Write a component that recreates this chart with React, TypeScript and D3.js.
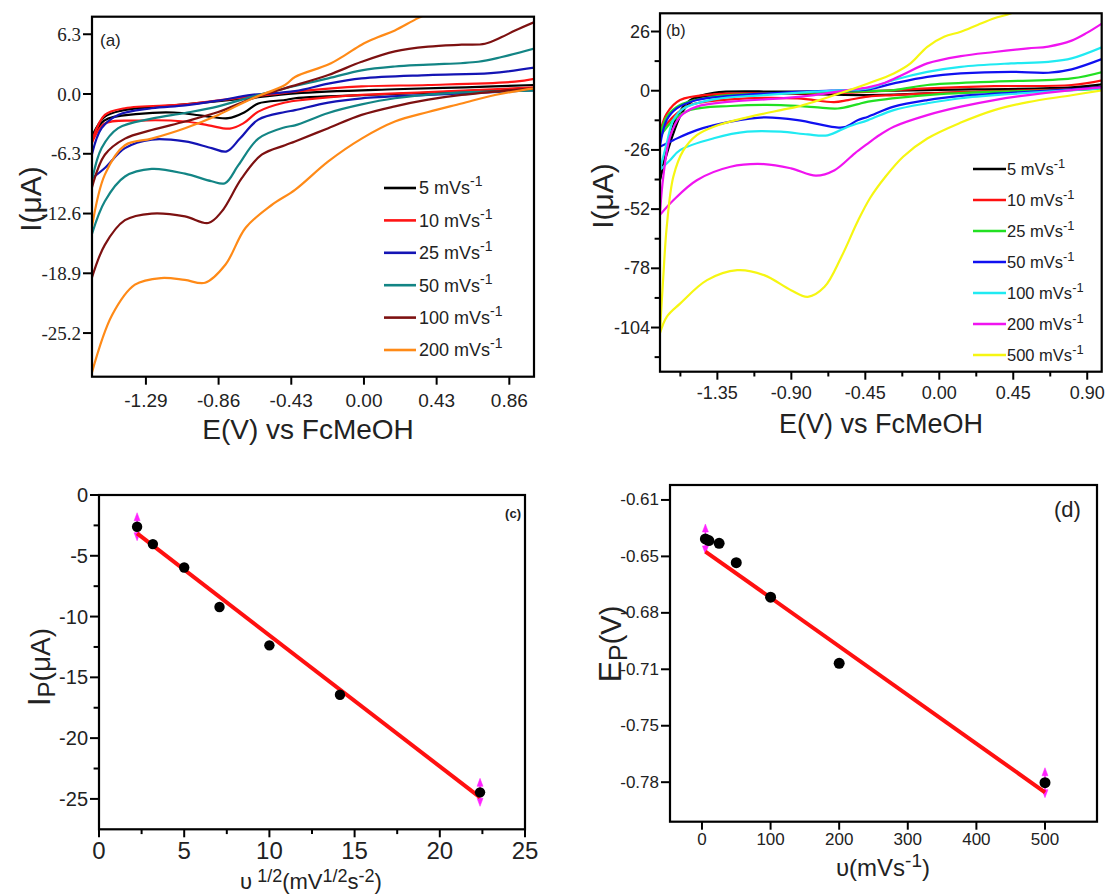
import React from "react";
import * as d3 from "d3";

type Pt = [number, number];

const SANS = "'Liberation Sans', Arial, sans-serif";
const SERIF = "'Liberation Serif', 'Times New Roman', serif";

// ================= Panel (a) data : E (V) , I (uA) =================
const ratesA = ["5", "10", "25", "50", "100", "200"];
const colorsA = ["#000000", "#ff1414", "#1414b4", "#138585", "#7d1111", "#ff8a17"];

const a5Cath: Pt[] = [[-1.61,-4.9],[-1.537,-2.8],[-1.33,-2.1],[-1.125,-1.95],[-0.95,-2.3],[-0.803,-2.55],[-0.704,-1.9],[-0.625,-1.0],[-0.467,-0.63],[-0.408,-0.45],[0.183,0.0],[0.6,0.3],[1.01,0.6]];
const a5Anod: Pt[] = [[-1.61,-4.5],[-1.537,-2.45],[-1.434,-1.75],[-1.125,-1.2],[-0.714,-0.5],[-0.408,0.07],[0.183,0.5],[0.6,0.7],[1.01,0.95]];
const a10Cath: Pt[] = [[-1.61,-5.2],[-1.537,-3.15],[-1.331,-2.8],[-1.059,-2.9],[-0.92,-3.3],[-0.793,-3.65],[-0.714,-3.1],[-0.625,-1.86],[-0.467,-0.9],[-0.349,-0.6],[-0.014,-0.1],[0.38,0.2],[1.01,0.7]];
const a10Anod: Pt[] = [[-1.61,-5.0],[-1.533,-2.2],[-1.414,-1.5],[-1.059,-1.1],[-0.763,-0.46],[-0.546,-0.04],[-0.408,0.25],[-0.014,0.8],[0.38,0.95],[0.894,1.3],[1.01,1.6]];
const a25Cath: Pt[] = [[-1.61,-8.9],[-1.533,-7.8],[-1.414,-5.7],[-1.256,-4.8],[-1.059,-5.0],[-0.901,-5.7],[-0.812,-6.05],[-0.734,-4.7],[-0.625,-2.7],[-0.467,-1.9],[-0.408,-1.7],[-0.211,-0.9],[-0.014,-0.45],[0.38,-0.1],[1.01,0.4]];
const a25Anod: Pt[] = [[-1.61,-6.4],[-1.552,-3.6],[-1.454,-2.2],[-1.256,-1.5],[-1.059,-1.2],[-0.862,-0.7],[-0.665,-0.1],[-0.408,0.3],[-0.211,1.1],[-0.014,1.65],[0.38,2.0],[0.75,2.2],[1.01,2.8]];
const a50Cath: Pt[] = [[-1.61,-14.8],[-1.533,-11.3],[-1.414,-8.7],[-1.256,-7.9],[-1.059,-8.4],[-0.901,-9.2],[-0.822,-9.4],[-0.743,-7.5],[-0.625,-4.7],[-0.467,-3.5],[-0.408,-3.3],[-0.211,-2.0],[-0.014,-1.1],[0.183,-0.45],[0.48,0.07],[1.01,0.35]];
const a50Anod: Pt[] = [[-1.61,-9.2],[-1.552,-5.7],[-1.454,-3.6],[-1.256,-2.6],[-1.059,-2.0],[-0.862,-1.3],[-0.665,-0.3],[-0.467,0.6],[-0.211,1.65],[-0.014,2.5],[0.183,2.9],[0.38,3.1],[0.676,3.4],[0.815,3.9],[1.01,4.8]];
const a100Cath: Pt[] = [[-1.61,-19.4],[-1.533,-15.9],[-1.414,-13.3],[-1.256,-12.6],[-1.059,-12.9],[-0.921,-13.6],[-0.842,-12.4],[-0.724,-8.9],[-0.605,-6.4],[-0.467,-5.4],[-0.408,-5.0],[-0.211,-3.6],[-0.014,-2.2],[0.183,-1.3],[0.38,-0.6],[0.578,-0.1],[1.01,0.6]];
const a100Anod: Pt[] = [[-1.61,-9.9],[-1.533,-6.4],[-1.414,-4.7],[-1.256,-3.8],[-1.059,-2.9],[-0.862,-1.9],[-0.665,-0.5],[-0.467,0.6],[-0.211,2.0],[-0.014,3.4],[0.183,4.5],[0.38,5.0],[0.578,5.2],[0.716,5.3],[0.815,6.0],[0.894,6.7],[1.01,7.6]];
const a200Cath: Pt[] = [[-1.61,-29.4],[-1.49,-23.3],[-1.355,-20.1],[-1.2,-19.4],[-1.06,-19.6],[-0.94,-19.9],[-0.82,-18.0],[-0.7,-14.1],[-0.546,-11.7],[-0.408,-10.1],[-0.211,-7.1],[-0.014,-4.7],[0.183,-2.9],[0.38,-1.9],[0.578,-1.0],[0.775,-0.1],[1.01,0.6]];
const a200Anod: Pt[] = [[-1.61,-14.1],[-1.533,-8.5],[-1.414,-5.4],[-1.256,-4.7],[-1.059,-3.6],[-0.862,-2.2],[-0.665,-0.5],[-0.467,0.95],[-0.408,1.8],[-0.211,3.1],[-0.112,4.1],[-0.014,5.2],[0.085,6.0],[0.183,6.7],[0.32,8.0],[0.5,9.5]];

const cathA = [a5Cath, a10Cath, a25Cath, a50Cath, a100Cath, a200Cath];
const anodA = [a5Anod, a10Anod, a25Anod, a50Anod, a100Anod, a200Anod];
const xTicksA = [-1.29, -0.86, -0.43, 0, 0.43, 0.86];
const yTicksA = [-25.2, -18.9, -12.6, -6.3, 0, 6.3];

// ================= Panel (b) data =================
const ratesB = ["5", "10", "25", "50", "100", "200", "500"];
const colorsB = ["#000000", "#ff1010", "#22e022", "#1010f0", "#20eaf2", "#f014f0", "#f6f612"];

const b5Cath: Pt[] = [[-1.7,-39.3],[-1.638,-23.1],[-1.556,-8.5],[-1.475,-3.4],[-1.168,-1.2],[-0.76,-1.5],[-0.433,-1.9],[-0.073,-1.2],[0.335,-0.4],[0.805,1.0],[1.0,1.6]];
const b5Anod: Pt[] = [[-1.7,-39.3],[-1.658,-26.1],[-1.597,-11.4],[-1.516,-4.1],[-1.372,-0.9],[-0.964,-0.4],[-0.555,-0.3],[-0.073,0.3],[0.805,1.5],[1.0,2.9]];
const b10Cath: Pt[] = [[-1.7,-18.8],[-1.618,-11.4],[-1.516,-6.3],[-1.27,-3.8],[-0.862,-3.4],[-0.64,-5.0],[-0.555,-4.1],[-0.433,-2.6],[-0.277,-1.9],[0.131,-0.6],[0.805,0.6],[1.0,1.2]];
const b10Anod: Pt[] = [[-1.7,-18.8],[-1.658,-10.0],[-1.577,-4.1],[-1.372,-1.6],[-0.964,-1.2],[-0.555,-0.9],[-0.073,1.0],[0.335,2.0],[0.805,2.5],[1.0,4.7]];
const b25Cath: Pt[] = [[-1.7,-20.2],[-1.618,-12.9],[-1.516,-8.5],[-1.27,-6.7],[-0.964,-6.3],[-0.76,-7.2],[-0.617,-7.8],[-0.5,-6.0],[-0.433,-4.8],[-0.073,-1.9],[0.335,-0.4],[0.805,0.3],[1.0,1.0]];
const b25Anod: Pt[] = [[-1.7,-20.2],[-1.658,-11.4],[-1.577,-6.3],[-1.372,-2.6],[-0.964,-1.2],[-0.555,-0.4],[-0.277,0.3],[-0.073,2.5],[0.335,4.0],[0.805,5.4],[1.0,8.4]];
const b50Cath: Pt[] = [[-1.7,-24.6],[-1.618,-21.7],[-1.475,-17.3],[-1.27,-13.6],[-1.066,-11.7],[-0.862,-12.9],[-0.637,-16.0],[-0.576,-16.0],[-0.494,-12.9],[-0.433,-11.4],[-0.277,-7.0],[-0.073,-4.1],[0.131,-2.3],[0.437,-0.9],[0.805,0.6],[1.0,1.5]];
const b50Anod: Pt[] = [[-1.7,-24.6],[-1.658,-12.9],[-1.597,-7.8],[-1.475,-4.1],[-1.27,-2.3],[-0.964,-0.9],[-0.657,0.0],[-0.433,0.6],[-0.277,3.2],[-0.073,6.1],[0.131,7.6],[0.437,8.3],[0.663,7.9],[0.805,9.4],[1.0,14.2]];
const b100Cath: Pt[] = [[-1.7,-34.9],[-1.638,-30.5],[-1.577,-26.1],[-1.372,-20.9],[-1.168,-18.0],[-0.964,-18.0],[-0.8,-19.2],[-0.68,-19.6],[-0.555,-15.8],[-0.433,-12.9],[-0.277,-8.5],[-0.073,-5.5],[0.131,-3.3],[0.437,-1.45],[0.805,0.3],[1.0,1.0]];
const b100Anod: Pt[] = [[-1.7,-34.9],[-1.658,-23.1],[-1.618,-12.9],[-1.556,-7.8],[-1.372,-3.8],[-1.066,-1.9],[-0.76,-0.4],[-0.555,0.3],[-0.433,1.0],[-0.277,4.7],[-0.073,8.3],[0.131,10.5],[0.437,12.0],[0.663,12.7],[0.805,14.2],[1.0,19.4]];
const b200Cath: Pt[] = [[-1.7,-54.6],[-1.618,-48.1],[-1.475,-39.3],[-1.27,-33.4],[-1.066,-32.2],[-0.902,-34.1],[-0.75,-37.3],[-0.637,-34.9],[-0.514,-27.5],[-0.433,-23.1],[-0.379,-20.2],[-0.277,-15.8],[-0.073,-10.7],[0.131,-7.0],[0.335,-4.1],[0.54,-1.9],[0.805,0.3],[1.0,1.5]];
const b200Anod: Pt[] = [[-1.7,-54.6],[-1.679,-37.8],[-1.638,-20.2],[-1.577,-11.4],[-1.475,-7.0],[-1.27,-4.8],[-0.964,-3.4],[-0.76,-1.9],[-0.555,0.3],[-0.433,1.5],[-0.33,3.5],[-0.223,7.0],[-0.073,12.0],[0.131,15.2],[0.335,17.0],[0.54,18.6],[0.663,19.4],[0.805,22.0],[0.9,25.5],[1.0,30.0]];
const b500Cath: Pt[] = [[-1.7,-106.7],[-1.658,-99.3],[-1.577,-93.5],[-1.413,-83.2],[-1.229,-78.8],[-1.066,-81.0],[-0.902,-87.6],[-0.8,-90.5],[-0.698,-86.1],[-0.596,-73.0],[-0.494,-57.0],[-0.42,-47.0],[-0.33,-38.0],[-0.22,-29.0],[-0.073,-21.0],[0.131,-14.0],[0.335,-8.5],[0.54,-5.0],[0.805,-2.0],[1.0,0.3]];
const b500Anod: Pt[] = [[-1.7,-106.7],[-1.679,-81.7],[-1.658,-59.8],[-1.618,-37.8],[-1.556,-26.1],[-1.475,-19.5],[-1.372,-15.8],[-1.168,-11.7],[-0.964,-8.5],[-0.862,-7.0],[-0.76,-4.8],[-0.637,-1.9],[-0.433,3.2],[-0.277,7.6],[-0.175,12.0],[-0.073,19.3],[0.029,23.7],[0.131,25.9],[0.233,28.9],[0.335,31.8],[0.437,34.0],[0.6,40.0]];

const cathB = [b5Cath, b10Cath, b25Cath, b50Cath, b100Cath, b200Cath, b500Cath];
const anodB = [b5Anod, b10Anod, b25Anod, b50Anod, b100Anod, b200Anod, b500Anod];
const xTicksB = [-1.35, -0.9, -0.45, 0, 0.45, 0.9];
const xMinorB = [-1.575, -1.125, -0.675, -0.225, 0.225, 0.675];
const yTicksB = [-104, -78, -52, -26, 0, 26];
const yMinorB = [-117, -91, -65, -39, -13, 13];

// ================= Panel (c) data =================
const sqrtRateC = [2.236, 3.162, 5, 7.071, 10, 14.142, 22.361];
const peakCurrentC = [-2.61, -4.04, -5.96, -9.21, -12.37, -16.43, -24.46];
const fitC = [-1.079, -0.748]; // slope, intercept
const errIdxC = [0, 6];
const errC = 1.15;
const xTicksC = [0, 5, 10, 15, 20, 25];
const xMinorC = [2.5, 7.5, 12.5, 17.5, 22.5];
const yTicksC = [0, -5, -10, -15, -20, -25];
const yMinorC = [-2.5, -7.5, -12.5, -17.5, -22.5];

// ================= Panel (d) data =================
const rateD = [5, 10, 25, 50, 100, 200, 500];
const peakPotD = [-0.6355, -0.6365, -0.6381, -0.6498, -0.6706, -0.7104, -0.7823];
const fitD = [-0.000293, -0.6416];
const errIdxD = [0, 6];
const errD = 0.009;
const xTicksD = [0, 100, 200, 300, 400, 500];
const yTicksD = [-0.612, -0.646, -0.68, -0.714, -0.748, -0.782];

// ---------- geometry ----------
const xA = d3.scaleLinear().domain([-1.609, 1.006]).range([92, 534]);
const yA = d3.scaleLinear().domain([-29.8, 8.15]).range([376.7, 16.7]);
const xB = d3.scaleLinear().domain([-1.699, 0.988]).range([660, 1101.7]);
const yB = d3.scaleLinear().domain([-123.4, 34.0]).range([371.7, 13.3]);
const xC = d3.scaleLinear().domain([0, 25]).range([99, 525]);
const yC = d3.scaleLinear().domain([-27.5, 0]).range([829.3, 495]);
const xD = d3.scaleLinear().domain([-46.6, 575.8]).range([670, 1097]);
const yD = d3.scaleLinear().domain([-0.8058, -0.603]).range([821.7, 485]);

type Sc = d3.ScaleLinear<number, number>;

function Frame({ x, y }: { x: Sc; y: Sc }) {
  const [x0, x1] = x.range();
  const [y1, y0] = y.range();
  return <rect x={x0} y={y0} width={x1 - x0} height={y1 - y0} fill="none" stroke="#000" strokeWidth={2.2} />;
}

function XAxis({ x, y, ticks, minor = [], fmt, font, size, labelY, len = 8 }: any) {
  const yb = y.range()[0];
  return (
    <g>
      {ticks.map((t: number, i: number) => (
        <g key={"t" + i}>
          <line x1={x(t)} x2={x(t)} y1={yb} y2={yb + len} stroke="#000" strokeWidth={2} />
          <text x={x(t)} y={labelY} textAnchor="middle" dominantBaseline="central" fontFamily={font} fontSize={size} fill="#222">{fmt(t)}</text>
        </g>
      ))}
      {minor.map((t: number, i: number) => (
        <line key={"m" + i} x1={x(t)} x2={x(t)} y1={yb} y2={yb + len * 0.6} stroke="#000" strokeWidth={2} />
      ))}
    </g>
  );
}

function YAxis({ x, y, ticks, minor = [], fmt, font, size, gap = 2, len = 9 }: any) {
  const xl = x.range()[0];
  return (
    <g>
      {ticks.map((t: number, i: number) => (
        <g key={"t" + i}>
          <line x1={xl - len} x2={xl} y1={y(t)} y2={y(t)} stroke="#000" strokeWidth={2} />
          <text x={xl - len - gap} y={y(t)} textAnchor="end" dominantBaseline="central" fontFamily={font} fontSize={size} fill="#222">{fmt(t)}</text>
        </g>
      ))}
      {minor.map((t: number, i: number) => (
        <line key={"m" + i} x1={xl - len * 0.6} x2={xl} y1={y(t)} y2={y(t)} stroke="#000" strokeWidth={2} />
      ))}
    </g>
  );
}

function CurveSet({ x, y, cath, anod, colors, id }: any) {
  const line = d3
    .line<Pt>()
    .x((d) => x(d[0]))
    .y((d) => y(d[1]))
    .curve(d3.curveCatmullRom.alpha(0.5));
  const [x0, x1] = x.range();
  const [y1, y0] = y.range();
  return (
    <g>
      <defs>
        <clipPath id={id}>
          <rect x={x0} y={y0} width={x1 - x0} height={y1 - y0} />
        </clipPath>
      </defs>
      <g clipPath={`url(#${id})`}>
        {cath.map((c: Pt[], i: number) => (
          <g key={i}>
            <path d={line(c) || ""} fill="none" stroke={colors[i]} strokeWidth={2.2} />
            <path d={line(anod[i]) || ""} fill="none" stroke={colors[i]} strokeWidth={2.2} />
          </g>
        ))}
      </g>
    </g>
  );
}

function Legend({ rates, colors, lx0, lx1, tx, y0, dy, size }: any) {
  return (
    <g>
      {rates.map((r: string, i: number) => (
        <g key={i}>
          <line x1={lx0} x2={lx1} y1={y0 + i * dy} y2={y0 + i * dy} stroke={colors[i]} strokeWidth={2.6} />
          <text x={tx} y={y0 + i * dy + size * 0.36} fontFamily={SANS} fontSize={size} fill="#222">
            {r} mVs<tspan dy={-size * 0.45} fontSize={size * 0.78}>-1</tspan>
          </text>
        </g>
      ))}
    </g>
  );
}

function ErrArrow({ cx, cy0, cy1 }: { cx: number; cy0: number; cy1: number }) {
  return (
    <g fill="#ff22ff" stroke="#ff22ff">
      <line x1={cx} x2={cx} y1={cy0 + 4} y2={cy1 - 4} strokeWidth={1.5} />
      <path d={`M${cx},${cy0} L${cx - 3},${cy0 + 8} L${cx + 3},${cy0 + 8} Z`} strokeWidth={0.5} />
      <path d={`M${cx},${cy1} L${cx - 3},${cy1 - 8} L${cx + 3},${cy1 - 8} Z`} strokeWidth={0.5} />
    </g>
  );
}

export default function App() {
  const lineC = [sqrtRateC[0], sqrtRateC[sqrtRateC.length - 1]].map((v) => [v, fitC[0] * v + fitC[1]] as Pt);
  const lineD = [rateD[0], rateD[rateD.length - 1]].map((v) => [v, fitD[0] * v + fitD[1]] as Pt);
  const lg = d3.line<Pt>();
  return (
    <svg width={1106} height={896} style={{ position: "absolute", left: 0, top: 0, background: "#fff" }}>
      <rect x={0} y={0} width={1106} height={896} fill="#fff" />

      {/* ===== Panel (a) ===== */}
      <CurveSet x={xA} y={yA} cath={cathA} anod={anodA} colors={colorsA} id="clipA" />
      <Frame x={xA} y={yA} />
      <XAxis x={xA} y={yA} ticks={xTicksA} fmt={(t: number) => t.toFixed(2)} font={SANS} size={19} labelY={400} />
      <YAxis x={xA} y={yA} ticks={yTicksA} fmt={(t: number) => t.toFixed(1)} font={SERIF} size={19} />
      <text x={100} y={46} fontFamily={SANS} fontSize={17} fill="#222">(a)</text>
      <Legend rates={ratesA} colors={colorsA} lx0={384} lx1={416} tx={419} y0={188} dy={32.4} size={18} />
      <text x={308} y={439} textAnchor="middle" fontFamily={SANS} fontSize={28} fill="#222">E(V) vs FcMeOH</text>
      <text transform="translate(41,199) rotate(-90)" textAnchor="middle" fontFamily={SANS} fontSize={30} fill="#222">I(μA)</text>

      {/* ===== Panel (b) ===== */}
      <CurveSet x={xB} y={yB} cath={cathB} anod={anodB} colors={colorsB} id="clipB" />
      <Frame x={xB} y={yB} />
      <XAxis x={xB} y={yB} ticks={xTicksB} minor={xMinorB} fmt={(t: number) => t.toFixed(2)} font={SANS} size={18} labelY={393} />
      <YAxis x={xB} y={yB} ticks={yTicksB} minor={yMinorB} fmt={(t: number) => String(t)} font={SANS} size={18} gap={1} />
      <text x={666} y={36} fontFamily={SANS} fontSize={16} fill="#222">(b)</text>
      <Legend rates={ratesB} colors={colorsB} lx0={973} lx1={1006} tx={1007} y0={169} dy={31} size={16.5} />
      <text x={881} y={433} textAnchor="middle" fontFamily={SANS} fontSize={27} fill="#222">E(V) vs FcMeOH</text>
      <text transform="translate(613,196) rotate(-90)" textAnchor="middle" fontFamily={SANS} fontSize={30} fill="#222">I(μA)</text>

      {/* ===== Panel (c) ===== */}
      <Frame x={xC} y={yC} />
      <XAxis x={xC} y={yC} ticks={xTicksC} minor={xMinorC} fmt={(t: number) => String(t)} font={SANS} size={24} labelY={850} />
      <YAxis x={xC} y={yC} ticks={yTicksC} minor={yMinorC} fmt={(t: number) => String(t)} font={SANS} size={20} />
      {errIdxC.map((i) => (
        <ErrArrow key={i} cx={xC(sqrtRateC[i])} cy0={yC(peakCurrentC[i] + errC)} cy1={yC(peakCurrentC[i] - errC)} />
      ))}
      <path d={lg(lineC.map((p) => [xC(p[0]), yC(p[1])] as Pt)) || ""} stroke="#ff1010" strokeWidth={4} fill="none" />
      {sqrtRateC.map((v, i) => (
        <circle key={i} cx={xC(v)} cy={yC(peakCurrentC[i])} r={5.2} fill="#000" />
      ))}
      <text x={521} y={518} textAnchor="end" fontFamily={SANS} fontSize={13} fontWeight="bold" fill="#222">(c)</text>
      <text x={311} y={889} textAnchor="middle" fontFamily={SANS} fontSize={22} fill="#222">
        υ<tspan dy={-7} fontSize={18}> 1/2</tspan><tspan dy={7}>(mV</tspan><tspan dy={-7} fontSize={18}>1/2</tspan><tspan dy={7}>s</tspan><tspan dy={-7} fontSize={18}>-2</tspan><tspan dy={7}>)</tspan>
      </text>
      <text transform="translate(50,667) rotate(-90)" textAnchor="middle" fontFamily={SANS} fontSize={31} fill="#222">
        I<tspan dy={5} fontSize={24}>P</tspan><tspan dy={-5} fontSize={28}>(μA)</tspan>
      </text>

      {/* ===== Panel (d) ===== */}
      <Frame x={xD} y={yD} />
      <XAxis x={xD} y={yD} ticks={xTicksD} fmt={(t: number) => String(t)} font={SANS} size={17} labelY={839} />
      <YAxis x={xD} y={yD} ticks={yTicksD} fmt={(t: number) => t.toFixed(2)} font={SANS} size={17} />
      {errIdxD.map((i) => (
        <ErrArrow key={i} cx={xD(rateD[i])} cy0={yD(peakPotD[i] + errD)} cy1={yD(peakPotD[i] - errD)} />
      ))}
      <path d={lg(lineD.map((p) => [xD(p[0]), yD(p[1])] as Pt)) || ""} stroke="#ff1010" strokeWidth={4} fill="none" />
      {rateD.map((v, i) => (
        <circle key={i} cx={xD(v)} cy={yD(peakPotD[i])} r={5.5} fill="#000" />
      ))}
      <text x={1054} y={517} fontFamily={SANS} fontSize={22} fill="#222">(d)</text>
      <text x={883} y={876} textAnchor="middle" fontFamily={SANS} fontSize={24} fill="#222">
        υ(mVs<tspan dy={-9} fontSize={19}>-1</tspan><tspan dy={9}>)</tspan>
      </text>
      <text transform="translate(621,644) rotate(-90)" textAnchor="middle" fontFamily={SANS} fontSize={32} fill="#222">
        E<tspan dy={6} fontSize={25}>P</tspan><tspan dy={-6} fontSize={29}>(V)</tspan>
      </text>
    </svg>
  );
}
